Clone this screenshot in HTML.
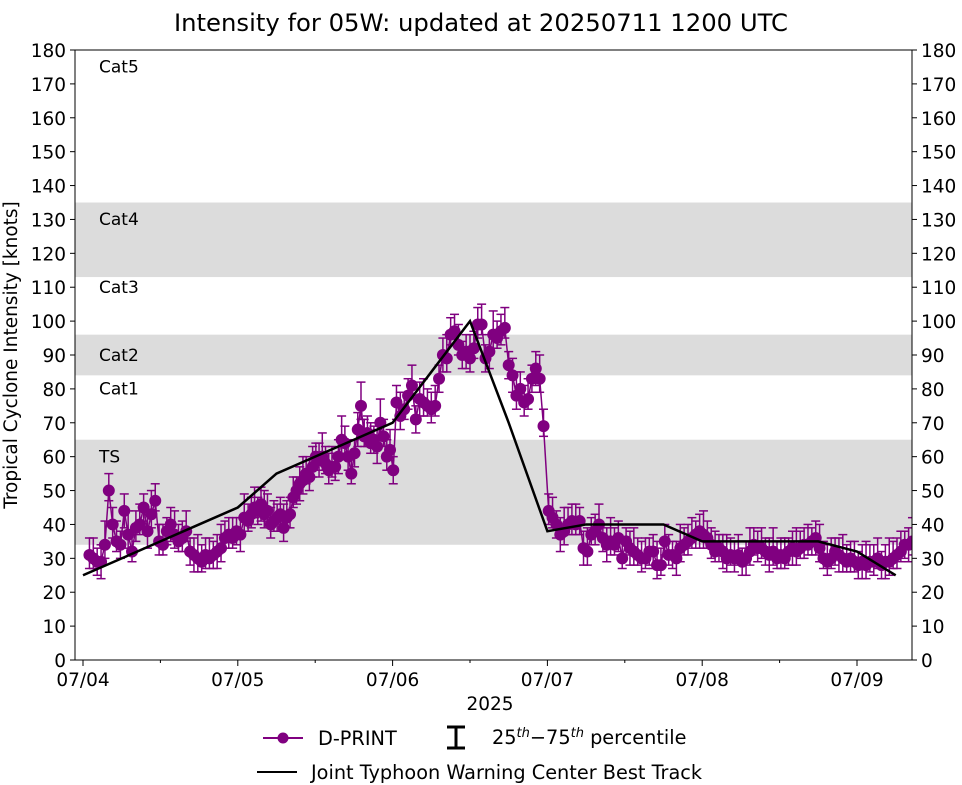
<!DOCTYPE html>
<html><head><meta charset="utf-8"><style>
body{margin:0;background:#fff}
svg{display:block;font-family:"DejaVu Sans","Liberation Sans",sans-serif}
</style></head><body>
<svg id="chart" width="962" height="785" xmlns="http://www.w3.org/2000/svg">
<text x="481" y="31" font-size="24.3" text-anchor="middle">Intensity for 05W: updated at 20250711 1200 UTC</text>
<g id="bands"></g>
<g id="series" clip-path="url(#clip)"></g>
<defs><clipPath id="clip"><rect x="75" y="50" width="837" height="611"/></clipPath></defs>
<rect x="75" y="50" width="837" height="610" fill="none" stroke="#000" stroke-width="1"/>
<g id="axes"></g>
<text transform="translate(17,355) rotate(-90)" font-size="18.5" text-anchor="middle">Tropical Cyclone Intensity [knots]</text>
<text x="490" y="710" font-size="18.5" text-anchor="middle">2025</text>
<g>
<g>
<line x1="263" y1="738" x2="303" y2="738" stroke="#800080" stroke-width="2"/>
<circle cx="283" cy="738" r="5.5" fill="#800080"/>
<text x="318" y="745" font-size="19.3">D-PRINT</text></g>
<g>
<line x1="456" y1="727" x2="456" y2="748" stroke="#000" stroke-width="3"/>
<line x1="447" y1="727" x2="465" y2="727" stroke="#000" stroke-width="3"/>
<line x1="447" y1="748" x2="465" y2="748" stroke="#000" stroke-width="3"/>
<text x="492" y="744" font-size="19.3">25<tspan font-size="13" font-style="italic" dy="-7">th</tspan><tspan dy="7">−75</tspan><tspan font-size="13" font-style="italic" dy="-7">th</tspan><tspan dy="7"> percentile</tspan></text></g>
<g>
<line x1="257" y1="772" x2="297" y2="772" stroke="#000" stroke-width="2"/>
<text x="311" y="779" font-size="19.3">Joint Typhoon Warning Center Best Track</text></g>
</g>
</svg>
<script>
const bestHours=[0,6,12,18,24,30,36,42,48,54,60,66,72,78,84,90,96,102,108,114,120,126];
const bestVals=[25,30,35,40,45,55,60,65,70,85,100,70,38,40,40,40,35,35,35,35,32,25];
const dpHours=[1,1.6,2.2,2.8,3.4,4,4.6,5.2,5.8,6.4,7,7.6,8.2,8.8,9.4,10,10.6,11.2,11.8,12.4,13,13.6,14.2,14.8,15.4,16,16.6,17.2,17.8,18.4,19,19.6,20.2,20.8,21.4,22,22.6,23.2,23.8,24.4,25,
25.6,26.1,26.6,27.1,27.6,28.1,28.6,29.1,29.6,30.1,30.6,31.1,31.6,32.1,32.6,33.1,33.6,34.1,34.6,35.1,35.6,36.1,36.6,37.1,37.6,38.1,38.6,39.1,39.6,40.1,40.6,41.1,41.6,42.1,42.6,43.1,43.6,44.1,44.6,45.1,45.6,46.1,46.6,47.1,47.6,48.1,
48.6,49.2,49.8,50.4,51,51.6,52.2,52.8,53.4,54,54.6,55.2,55.8,56.4,57,57.6,58.2,58.8,59.4,60,60.6,61.2,61.8,62.4,63,63.6,64.2,64.8,65.4,66,66.6,67.2,67.8,68.4,69,69.6,70.2,70.8,71.4,
72.2,72.8,73.4,74,74.6,75.2,75.8,76.4,77,77.6,78.2,78.8,79.4,80,80.6,81.2,81.8,82.4,83,83.6,84.2,84.8,85.4,86,86.6,87.2,87.8,88.4,89,89.6,90.2,90.8,91.4,92,92.6,93.2,93.8,94.4,95,95.6,96.2,96.8,97.4,98,98.6,99.2,99.8,100.4,101,101.6,102.2,102.8,103.4,104,104.6,105.2,105.8,106.4,107,107.6,108.2,108.8,109.4,110,110.6,111.2,111.8,112.4,113,113.6,114.2,114.8,115.4,116,116.6,117.2,117.8,118.4,119,119.6,120.2,120.8,121.4,122,122.6,123.2,123.8,124.4,125,125.6,126.2,126.8,127.4,128,128.6,129.2];
const dpVals=[31,30,29,29,34,50,40,35,34,44,37,32,39,40,45,38,43,47,35,34,38,40,37,35,36,38,32,31,30,29,31,30,31,32,33,36,37,36,38,37,42,
41,43,45,44,46,43,44,40,41,42,43,39,42,43,48,50,52,53,55,54,57,60,59,60,58,56,57,57,60,65,64,60,55,61,68,75,66,67,64,65,63,70,66,60,62,56,
76,72,74,78,81,71,77,76,75,74,75,83,90,89,96,97,93,90,91,89,92,99,99,89,91,96,95,97,98,87,84,78,80,76,77,83,86,83,69,
44,42,40,37,38,40,41,40,41,33,32,37,38,40,36,34,35,34,36,30,35,33,32,31,30,30,32,32,28,28,35,31,31,30,33,34,35,36,37,38,37,36,34,32,33,32,30,31,30,31,29,30,32,34,33,33,32,31,32,30,31,30,32,33,32,33,34,34,35,36,33,30,29,30,32,31,30,29,30,29,28,29,28,29,29,30,28,29,29,30,31,32,34,34,35,35];
const errBelow=[4,3,4,5,4,3];
const errAbove=[5,6,4,5,7,5];
const yTicks=[0,10,20,30,40,50,60,70,80,90,100,110,120,130,140,150,160,170,180];
const xTickHours=[0,24,48,72,96,120];
const xTickLabels=["07/04","07/05","07/06","07/07","07/08","07/09"];
const bandLows=[34,84,113];
const bandHighs=[65,96,135];
const catNames=["Cat5","Cat4","Cat3","Cat2","Cat1","TS"];
const catVals=[173,128,108,88,78,58];

const NS="http://www.w3.org/2000/svg";
const X=h=>83+h*(154.8/24);
const Y=v=>660-v*(610/180);
function mk(tag,attrs,parent){const e=document.createElementNS(NS,tag);for(const k in attrs)e.setAttribute(k,attrs[k]);parent.appendChild(e);return e;}
const bands=document.getElementById('bands'),axes=document.getElementById('axes'),series=document.getElementById('series');
bandLows.forEach((lo,i)=>{const r=mk('rect',{x:75,y:Y(bandHighs[i]),width:837,height:Y(lo)-Y(bandHighs[i]),fill:'#dcdcdc'},bands);

});
catNames.forEach((n,i)=>{const t=mk('text',{x:99,y:Y(catVals[i])-1,'font-size':17},bands);t.textContent=n;

});
yTicks.forEach(v=>{const y=Y(v);
mk('line',{x1:70,x2:75,y1:y,y2:y,stroke:'#000'},axes);mk('line',{x1:912,x2:917,y1:y,y2:y,stroke:'#000'},axes);
const t=mk('text',{x:66,y:y+7,'font-size':18.5,'text-anchor':'end'},axes);t.textContent=v;


const t2=mk('text',{x:921,y:y+7,'font-size':18.5},axes);t2.textContent=v;

});
xTickHours.forEach((h,i)=>{const x=X(h);mk('line',{x1:x,x2:x,y1:660,y2:666,stroke:'#000'},axes);
if(X(h+12)<912)mk('line',{x1:X(h+12),x2:X(h+12),y1:660,y2:663,stroke:'#000'},axes);
const t=mk('text',{x:x,y:686,'font-size':18.5,'text-anchor':'middle'},axes);t.textContent=xTickLabels[i];

});
const dp=mk('g',{},series);


let pts=[];
dpHours.forEach((h,i)=>{const x=X(h),v=dpVals[i];const lo=Y(v-errBelow[i%6]),hi=Y(v+errAbove[i%6]);
const g=mk('g',{stroke:'#800080','stroke-width':1.5},dp);


mk('line',{x1:x,x2:x,y1:lo,y2:hi},g);mk('line',{x1:x-4.5,x2:x+4.5,y1:lo,y2:lo},g);mk('line',{x1:x-4.5,x2:x+4.5,y1:hi,y2:hi},g);
pts.push(x+','+Y(v));});
mk('polyline',{points:pts.join(' '),fill:'none',stroke:'#800080','stroke-width':1.5},dp);
dpHours.forEach((h,i)=>{const c=mk('circle',{cx:X(h),cy:Y(dpVals[i]),r:6,fill:'#800080'},dp);

});
const bt=mk('polyline',{points:bestHours.map((h,i)=>X(h)+','+Y(bestVals[i])).join(' '),fill:'none',stroke:'#000','stroke-width':2.5},series);


</script>
</body></html>
